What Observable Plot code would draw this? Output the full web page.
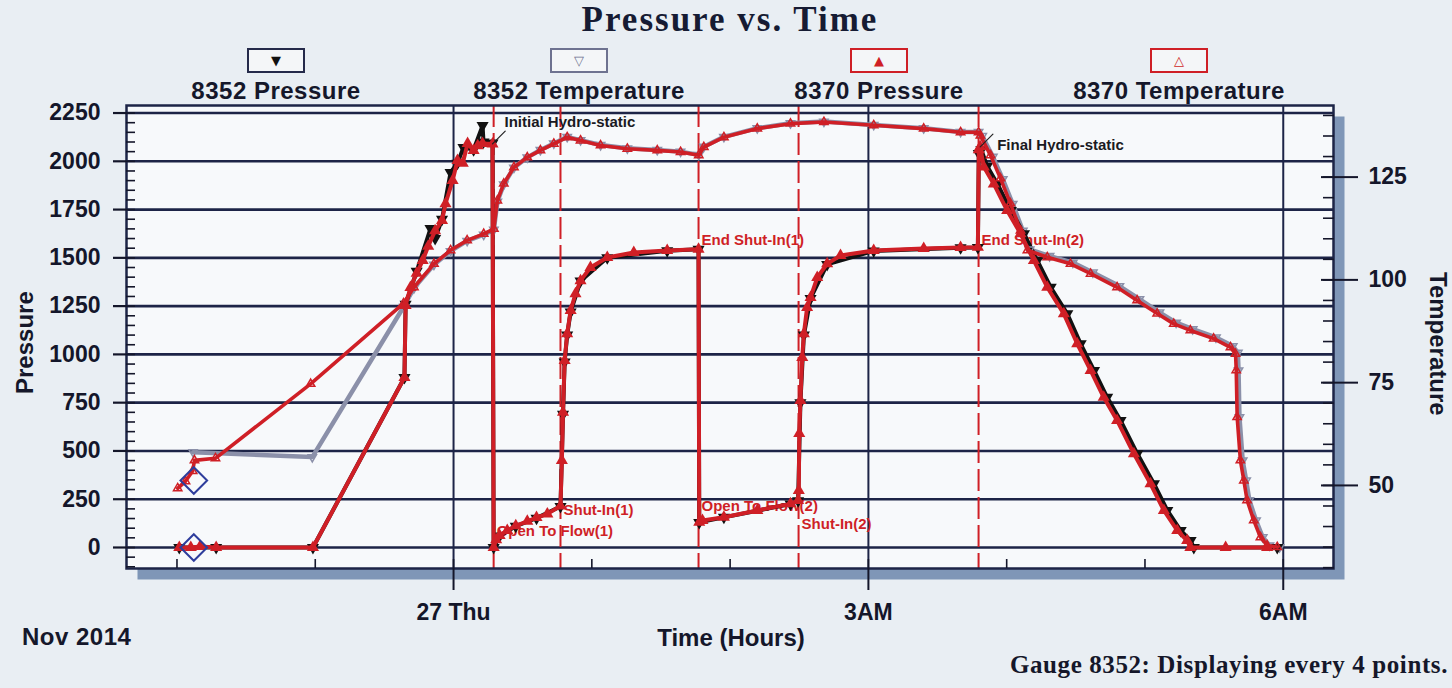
<!DOCTYPE html>
<html><head><meta charset="utf-8">
<script src="https://cdn.jsdelivr.net/npm/d3@7"></script>
<script src="https://cdn.jsdelivr.net/npm/@observablehq/plot@0.6"></script>
<style>
html,body{margin:0;padding:0;}
body{width:1452px;height:688px;overflow:hidden;background:#e9eef3;position:relative;font-family:"Liberation Sans",Arial,sans-serif;}
#chart{position:absolute;left:0;top:0;}
.t{position:absolute;white-space:nowrap;font-weight:bold;color:#15172a;}
#title{left:0;width:1460px;text-align:center;top:0px;font-family:"Liberation Serif","Times New Roman",serif;font-size:35px;color:#161b33;letter-spacing:2px;}
.lg{position:absolute;top:48px;width:300px;text-align:center;}
.lg .box{display:inline-block;width:54px;height:21px;border:2px solid #2a2f50;line-height:21px;font-family:"DejaVu Sans",sans-serif;font-size:13px;background:#f4f6f8;}
.lg .lab{display:block;margin-top:4px;font-weight:bold;font-size:24px;color:#15172a;letter-spacing:0.5px;}
#ylab{left:-25px;top:330px;width:100px;text-align:center;font-size:24px;transform:rotate(-90deg);}
#y2lab{left:1378px;top:318px;width:120px;text-align:center;font-size:24px;transform:rotate(90deg);}
#xlab{left:631px;width:200px;text-align:center;top:624px;font-size:24px;}
#nov{left:22px;top:623px;font-size:24px;letter-spacing:0.5px;}
#cap{right:4px;top:651px;font-family:"Liberation Serif","Times New Roman",serif;font-size:25px;color:#15172a;letter-spacing:0.6px;}
</style></head><body>
<div id="chart"></div>
<div class="t" id="title">Pressure vs. Time</div>
<div id="legend"></div>
<div class="t" id="ylab">Pressure</div>
<div class="t" id="y2lab">Temperature</div>
<div class="t" id="xlab">Time (Hours)</div>
<div class="t" id="nov">Nov 2014</div>
<div class="t" id="cap">Gauge 8352: Displaying every 4 points.</div>
<script>
// ---- data (time in minutes from 2014-11-27 00:00) ----
const p8370Times = [-119,-114,-110,-103,-61,-21.3,-20.8,-18.7,-16,-13.4,-11,-8,-5,-3.5,-0.4,1.7,4,6.1,8.7,10.5,12.6,16.9,
  17.4,18.5,20,23.3,27,32,36,40.7,46.4,47.0,47.5,48.2,49.3,50.8,52.9,55.1,59.4,66.7,78.2,92.7,106.3,
  106.6,108,117.3,131.8,146.2,149.5,149.8,150.0,150.5,151.3,152.0,153.4,154.9,157.8,162.1,167.9,182.3,204.0,220.0,227.5,
  227.9,228.5,230.1,234.4,240.2,246.0,251.8,257.6,264.8,270.6,276.4,282.1,287.9,295.2,302.4,308.2,314.0,318.3,319.7,335,353.0];
const p8370Values = [0,0,5,0,0,880,1253,1347,1420,1486,1560,1640,1693,1780,1900,2004,1990,2092,2056,2080,2092,2090,
  0,40,62,88,112,136,155,174,215,450,700,968,1107,1227,1314,1382,1450,1502,1528,1538,1545,
  131,140,157,192,226,243,295,590,761,984,1107,1243,1295,1398,1469,1512,1538,1548,1554,1555,
  2060,2075,1970,1883,1745,1625,1486,1348,1210,1055,917,778,658,485,330,192,88,36,0,0,0];

const p8352Times = [-119,-103,-61,-21.3,-20.8,-16,-10,-8,-5,-1.3,1.7,4.3,8.7,12.6,13,16.9,
  17.4,20,27,36,46.4,47.5,48.2,49.3,50.8,55.1,66.7,92.7,106.3,
  106.6,117.3,146.2,149.5,150.5,152.0,154.9,162.1,182.3,220,227.5,
  227.9,229,231.5,236,241.8,247.5,253.3,259.1,266.3,272.1,277.9,283.6,289.4,296.7,303.9,309.7,315.5,319.8,321.2,357.4];
const p8352Values = [0,0,0,880,1260,1430,1652,1600,1700,1942,1990,2072,2060,2185,2100,2095,
  0,60,110,152,212,690,960,1100,1220,1380,1500,1537,1544,
  130,156,225,242,750,1100,1290,1466,1536,1552,1553,
  2040,2060,1975,1883,1745,1625,1486,1348,1210,1055,917,778,658,485,330,192,88,36,0,0];

const t8370Times = [-119.7,-116.3,-113.2,-112.4,-103.3,-62.0,-21.7,-17.2,-8.5,-1.3,5.9,13.1,17.5,19.0,21.8,26.2,32.0,37.7,43.5,
  49.3,55.1,63.8,75.4,88.4,98.5,106.4,108.6,117.3,131.8,146.2,160.7,182.3,204.0,220.0,227.8,
  228.6,233.0,237.3,241.6,246.0,249.0,257.6,267.7,276.4,287.9,296.6,305.3,312.5,319.7,329.8,337.1,339.3,
  339.6,340.0,341.4,342.9,344.3,347.2,350.1,353.0,357.4];
const t8370Values = [49.3,51,53.5,56.1,56.6,74.7,94.3,98.2,103.9,107.2,109.6,111.2,112.4,119.3,123.4,127.4,129.8,131.5,133.1,
  134.7,133.9,132.7,131.9,131.5,131.1,130.3,132.3,134.7,136.8,138.0,138.4,137.6,136.8,135.9,135.9,
  135.1,130.3,124.7,118.6,112.0,107.2,105.5,103.9,101.5,98.2,95.0,91.8,89.3,87.7,85.7,83.6,82.0,
  78.0,66.6,56.1,51.2,46.4,41.5,37.4,35.4,35.0];

const t8352Times = [-113,-61.3,-21.7,-17.2,-8.5,-1.3,5.9,13.1,17.5,19.0,21.8,26.2,32.0,37.7,43.5,
  49.3,55.1,63.8,75.4,88.4,98.5,106.4,108.6,117.3,131.8,146.2,160.7,182.3,204.0,220.0,227.8,
  229.4,234.0,238.3,242.6,247.0,250.0,258.6,268.7,277.4,288.9,297.6,306.3,313.5,320.7,330.8,338.1,340.3,
  340.6,341.0,342.4,343.9,345.3,348.2,351.1,354.0,358.4];
const t8352Values = [58.1,56.9,93.4,98.0,103.7,107.0,109.5,111.0,112.2,119.0,123.2,127.3,129.8,131.6,133.2,
  134.8,134.0,132.8,132.0,131.6,131.2,130.4,132.4,134.8,136.9,138.1,138.5,137.7,136.9,136.0,136.0,
  135.0,130.0,124.5,118.5,112.0,107.4,105.8,104.2,101.8,98.5,95.3,92.1,89.6,88.0,86.0,83.9,82.3,
  78.0,66.6,56.1,51.2,46.4,41.5,37.4,35.4,35.0];

const startTimes = [-112.7, -112.7];
const startValues = [347, 0];

const eventLabels = ["Open To Flow(1)", "Shut-In(1)", "End Shut-In(1)", "Open To Flow(2)", "Shut-In(2)", "End Shut-In(2)"];
const eventTimes = [17.4, 46.4, 106.3, 106.3, 149.7, 227.8];
const eventLabelValues = [83, 192, 1590, 214, 122, 1590];

const hydroLabels = ["Initial Hydro-static", "Final Hydro-static"];
const hydroTimes = [16.9, 228.5];
const hydroValues = [2090, 2075];

const pressureTicks = [0,250,500,750,1000,1250,1500,1750,2000,2250];
const temperatureTicks = [50,75,100,125];
const xTickTimes = [0, 180, 360];
const xTickLabels = ["27 Thu", "3AM", "6AM"];
const legendNames = ["8352 Pressure", "8352 Temperature", "8370 Pressure", "8370 Temperature"];
const legendGlyphs = ["\u25BC", "\u25BD", "\u25B2", "\u25B3"];

// ---- helpers ----
const base = Date.UTC(2014, 10, 27);
const toDate = m => new Date(base + m * 60000);
const tempToP = T => 21.29 * T - 743.1;   // right axis (temperature) aligned to left axis (pressure)
const pToTemp = P => (P + 743.1) / 21.29;
const series = (ts, vs, f = v => v) => ts.map((t, i) => ({x: toDate(t), y: f(vs[i])}));

const P8370 = series(p8370Times, p8370Values);
const P8352 = series(p8352Times, p8352Values);
const T8370 = series(t8370Times, t8370Values, tempToP);
const T8352 = series(t8352Times, t8352Values, tempToP);
const starts = series(startTimes, startValues);
const events = eventLabels.map((l, i) => ({x: toDate(eventTimes[i]), y: eventLabelValues[i], label: l}));
const ruleTimes = [...new Set(eventTimes)].map(toDate);
const hydro = hydroLabels.map((l, i) => ({x: toDate(hydroTimes[i]), y: hydroValues[i], label: l}));

const RED = "#cf1f26", DARK = "#1d2447";
const minorP = d3.range(-100, 2251, 50);
const minorT = d3.range(30, 141, 5).map(tempToP);
const minorX = d3.range(-120, 381, 60).map(toDate);
const leader = {draw(ctx, l) { ctx.moveTo(0, 0); ctx.lineTo(0, -l); }};

const chart = Plot.plot({
  width: 1452, height: 688,
  marginLeft: 126, marginRight: 119, marginTop: 105, marginBottom: 120,
  style: {background: "transparent", fontFamily: "'Liberation Sans', Arial, sans-serif", fontSize: "23px", fontWeight: "bold", color: "#14162a"},
  x: {type: "utc", domain: [toDate(-141.9), toDate(381.8)]},
  y: {domain: [-108.8, 2289]},
  marks: [
    Plot.frame({fill: "#7f96b7", dx: 11, dy: 11}),
    Plot.frame({fill: "#f7f9fb"}),
    Plot.gridY(pressureTicks, {stroke: DARK, strokeWidth: 2.6, strokeOpacity: 1}),
    Plot.gridX(xTickTimes.map(toDate), {stroke: DARK, strokeWidth: 2, strokeOpacity: 1}),
    Plot.ruleX(ruleTimes, {stroke: RED, strokeWidth: 2, strokeDasharray: "22,6"}),
    Plot.text(events, {x: "x", y: "y", text: "label", fill: RED, fontSize: 15, fontWeight: "bold", textAnchor: "start", dx: 3}),
    Plot.line(T8352, {x: "x", y: "y", stroke: "#8b90a9", strokeWidth: 4.5}),
    Plot.line(P8352, {x: "x", y: "y", stroke: "#111", strokeWidth: 4}),
    Plot.dot(T8352, {x: "x", y: "y", symbol: "triangle2", rotate: 180, r: 4, stroke: "#8b90a9", strokeWidth: 1.5}),
    Plot.dot(P8352, {x: "x", y: "y", symbol: "triangle", rotate: 180, r: 4.5, fill: "#111"}),
    Plot.line(T8370, {x: "x", y: "y", stroke: RED, strokeWidth: 3.6}),
    Plot.line(P8370, {x: "x", y: "y", stroke: RED, strokeWidth: 4}),
    Plot.dot(T8370, {x: "x", y: "y", symbol: "triangle2", r: 4, stroke: RED, strokeWidth: 1.5}),
    Plot.dot(P8370, {x: "x", y: "y", symbol: "triangle", r: 4.5, fill: RED}),
    Plot.dot(starts, {x: "x", y: "y", symbol: "diamond2", r: 12, stroke: "#2e3d9c", strokeWidth: 2, fill: "none"}),
    Plot.vector(hydro, {x: "x", y: "y", length: 18, rotate: 45, anchor: "start", shape: leader, stroke: "#222", strokeWidth: 1.2}),
    Plot.text(hydro.slice(0, 1), {x: "x", y: "y", text: "label", fill: "#1a1a22", fontSize: 15, fontWeight: "bold", textAnchor: "start", dx: 12, dy: -22}),
    Plot.text(hydro.slice(1), {x: "x", y: "y", text: "label", fill: "#1a1a22", fontSize: 15, fontWeight: "bold", textAnchor: "start", dx: 17, dy: -2}),
    Plot.frame({stroke: DARK, strokeWidth: 2.5}),
    Plot.axisY(pressureTicks, {anchor: "left", tickSize: 13, tickPadding: 13, strokeWidth: 2.2, label: null, fontSize: 23, tickFormat: d3.format("d")}),
    Plot.axisY(minorP, {anchor: "left", tickSize: -9, tickFormat: () => "", strokeWidth: 1.6, label: null}),
    Plot.axisY(temperatureTicks.map(tempToP), {anchor: "right", tickSize: 24, tickPadding: 11, strokeWidth: 2, label: null, fontSize: 23, tickFormat: p => String(Math.round(pToTemp(p)))}),
    Plot.axisY(temperatureTicks.map(tempToP), {anchor: "right", tickSize: -13, tickFormat: () => "", strokeWidth: 2, label: null}),
    Plot.axisY(minorT, {anchor: "right", tickSize: -11, tickFormat: () => "", strokeWidth: 1.6, label: null}),
    Plot.axisX(xTickTimes.map(toDate), {anchor: "bottom", tickSize: 22, tickPadding: 13, strokeWidth: 2, label: null, fontSize: 23, tickFormat: (d, i) => xTickLabels[i]}),
    Plot.axisX(minorX, {anchor: "bottom", tickSize: -9, tickFormat: () => "", strokeWidth: 1.6, label: null})
  ]
});
document.getElementById("chart").appendChild(chart);

// legend
const legendCenters = [276, 579, 879, 1179];
const legendBorders = ["#252a4a", "#6e7290", RED, RED];
const legendColors = ["#111", "#6e7290", RED, RED];
const lg = document.getElementById("legend");
legendNames.forEach((n, i) => {
  const d = document.createElement("div");
  d.className = "lg";
  d.style.left = (legendCenters[i] - 150) + "px";
  d.innerHTML = `<span class="box" style="border-color:${legendBorders[i]};color:${legendColors[i]}">${legendGlyphs[i]}</span><span class="lab">${n}</span>`;
  lg.appendChild(d);
});
</script>
</body></html>
